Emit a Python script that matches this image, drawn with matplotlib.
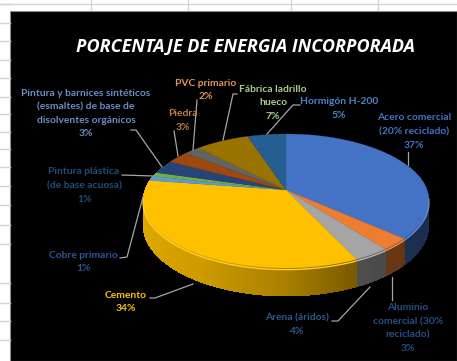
# -*- coding: utf-8 -*-
"""Pie 3D de porcentaje de energia incorporada, sobre una hoja de Excel"""
import numpy as np
import matplotlib
matplotlib.use("Agg")
import matplotlib.pyplot as plt

plt.rcParams['font.family'] = ['Lato', 'DejaVu Sans']

TITLE = "PORCENTAJE DE ENERGIA INCORPORADA"

# valores en sentido horario desde las 12 (la etiqueta los redondea)
materials = ["Acero comercial\n(20% reciclado)", "Aluminio\ncomercial (30%\nreciclado)",
             "Arena (áridos)", "Cemento", "Cobre primario",
             "Pintura plástica\n(de base acuosa)",
             "Pintura y barnices sintéticos\n(esmaltes) de base de\ndisolventes orgánicos",
             "Piedra", "PVC primario", "Fábrica ladrillo\nhueco", "Hormigón H-200"]
percents = [36.6, 2.9, 3.5, 34.4, 1.1, 1.0, 3.2, 3.0, 2.1, 7.1, 5.1]

slice_colors = ["#4472c4", "#ed7d31", "#a5a5a5", "#ffc000", "#5b9bd5", "#70ad47",
                "#264478", "#9e480e", "#636363", "#997300", "#255e91"]
label_colors = ["#4472c4", "#264f86", "#2a5a8f", "#ffc000", "#2f5597", "#1f4e79",
                "#6b8cc7", "#c67a45", "#e0955f", "#a8d08d", "#4a86c5"]

# centro de cada etiqueta (px) y altura de su primera linea
label_pos = [(414, 118), (408, 308), (297, 318), (126, 295), (83, 255), (84, 172),
             (86, 93), (183, 114), (206, 83), (273, 89), (339, 102)]
leaders = [
    [(408, 152), (408, 165)],
    [(392, 277), (392, 300)],
    [(370, 287), (338, 321), (332, 321)],
    [(193, 284), (155, 298), (150, 298)],
    [(143, 197), (127, 257), (120, 258)],
    [(122, 175), (153, 176)],
    [(131, 130), (136, 130), (162, 167)],
    [(174, 131), (178, 156)],
    [(197, 100), (193, 150)],
    [(237, 94), (233, 94), (223, 140)],
    [(300, 105), (293, 105), (267, 134)],
]

# geometria del pastel en perspectiva
CX, CY = 286, 190
RX, RY, P, DEPTH = 141, 65.2, 0.164, 23.4


def project(theta, z=0.0):
    """theta en radianes, horario desde arriba; z = bajada en el canto"""
    u, v = np.sin(theta), np.cos(theta)
    w = 1 + P * v
    return CX + RX * u / w, CY - RY * v / w + z * DEPTH / w


def darken(color, k):
    return tuple(c * k for c in matplotlib.colors.to_rgb(color))


def lighten(color, k):
    return tuple(c + (1 - c) * k for c in matplotlib.colors.to_rgb(color))


def side_shade(theta):
    return np.interp(np.sin(theta), [-1, -0.5, 0, 0.4, 1], [0.88, 0.8, 0.66, 0.48, 0.38])


fig = plt.figure(figsize=(4.57, 3.61), dpi=100, facecolor='white')
ax = fig.add_axes([0, 0, 1, 1])
ax.set_xlim(0, 457)
ax.set_ylim(361, 0)
ax.axis('off')

# rejilla de la hoja
for y in [4, 23, 41, 60, 78, 97, 114, 132, 149, 167, 186, 205, 225, 244, 283, 303, 321, 340]:
    ax.plot([0, 10], [y, y], color='#d4d4d4', lw=1)
ax.plot([0, 457], [4, 4], color='#d4d4d4', lw=1)
for x in [91, 188, 291, 378]:
    ax.plot([x, x], [0, 10], color='#d4d4d4', lw=1)

ax.fill([10, 457, 457, 10], [11, 11, 361, 361], color='black', ec='#8c8c8c', lw=0.8)

edges = np.radians(np.cumsum([0] + percents) / sum(percents) * 360)

# canto inferior, por tiras
for i, color in enumerate(slice_colors):
    steps = np.arange(edges[i], edges[i + 1], np.radians(1.5))
    steps = np.append(steps, edges[i + 1])
    for a, b in zip(steps[:-1], steps[1:]):
        if np.cos((a + b) / 2) > 0.35:
            continue
        xa, ya0 = project(a)
        xb, yb0 = project(b)
        xa1, ya1 = project(a, 1)
        xb1, yb1 = project(b, 1)
        shade = darken(color, side_shade((a + b) / 2))
        ax.fill([xa, xb, xb1, xa1], [ya0, yb0, yb1, ya1], color=shade, lw=0, antialiased=False)

# cara superior
for i, color in enumerate(slice_colors):
    t = np.linspace(edges[i], edges[i + 1], 60)
    xs, ys = project(t)
    ax.fill(np.r_[CX, xs, CX], np.r_[CY, ys, CY], color=color, lw=0.2)

# brillo del borde frontal
for i, color in enumerate(slice_colors):
    t = np.linspace(edges[i], edges[i + 1], 60)
    t = t[np.cos(t) < -0.1]
    if len(t) > 1:
        xs, ys = project(t, 0.06)
        ax.plot(xs, ys, color=lighten(color, 0.2), lw=1.0, solid_capstyle='butt')

for pts in leaders:
    xs, ys = zip(*pts)
    ax.plot(xs, ys, color='#a6a6a6', lw=0.9)

ax.text(245, 47, TITLE, color='white', fontsize=13.0, fontweight='bold',
        fontstyle='italic', family=['Open Sans', 'Noto Sans', 'DejaVu Sans'],
        ha='center', va='center')

for name, pct, color, (x, y) in zip(materials, percents, label_colors, label_pos):
    lines = name.split("\n") + [f"{round(pct)}%"]
    for j, line in enumerate(lines):
        ax.text(x, y + j * 13.6, line, color=color, fontsize=7.4, fontweight='bold',
                ha='center', va='center')

plt.savefig("out.png", dpi=100)
plt.close()
